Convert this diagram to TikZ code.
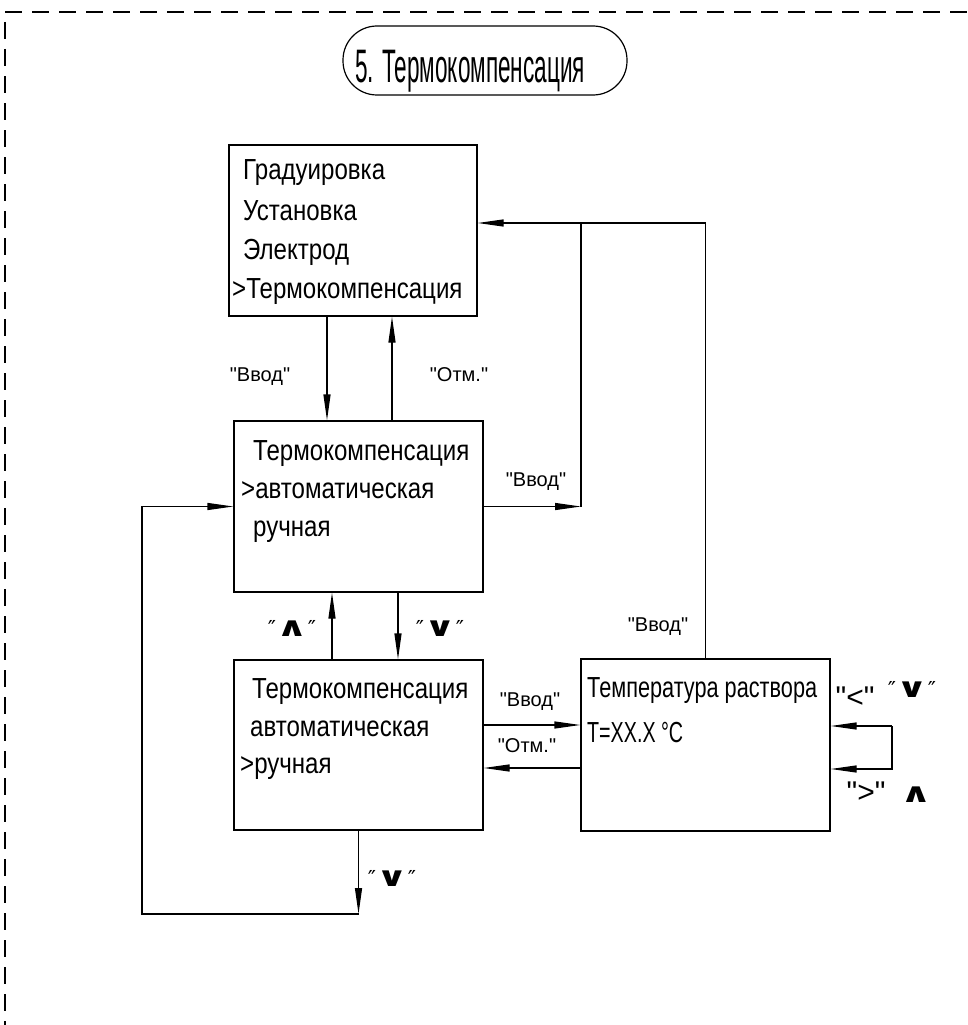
\documentclass[tikz,border=0pt]{standalone}
\usepackage{fontspec}
\usepackage{graphicx}
\setmainfont[FakeStretch=0.83]{Liberation Sans}
\newfontfamily\lblfont{Liberation Sans}
\newfontfamily\symfont{DejaVu Sans}
\newcommand{\qq}{\textquotedbl}
\newcommand{\bsym}[1]{\scalebox{1.3}[0.9]{\fontsize{30}{30}\selectfont\bfseries #1}}
\usetikzlibrary{arrows.meta}
\begin{document}
\begin{tikzpicture}[x=1pt,y=-1pt,
  ln/.style={line width=1.2pt},
  box/.style={draw, line width=1.2pt, inner sep=0pt, minimum width=249pt, minimum height=171pt},
  txt/.style={anchor=base west, inner sep=0pt, font=\fontsize{29}{29}\selectfont},
  lbl/.style={anchor=base, inner sep=0pt, font=\lblfont\fontsize{20}{20}\selectfont},
  sym/.style={anchor=base, inner sep=0pt, font=\symfont\fontsize{22}{22}\selectfont},
  arr/.style={line width=1.2pt, -{Triangle[length=26pt,width=7pt]}},
  border/.style={line width=1.2pt, dash pattern=on 17pt off 10pt}]
\useasboundingbox (0,0) rectangle (967,1025);

% dashed frame
\coordinate (d0) at (5,12);
\coordinate (d1) at (967,12);
\coordinate (d2) at (5,22);
\coordinate (d3) at (5,1025);
\draw[border] (d0) -- (d1);
\draw[border] (d2) -- (d3);

% title
\node[draw, line width=1.2pt, rounded corners=34pt, minimum width=284pt, minimum height=69pt, inner sep=0pt] (title) at (485,60.5) {};
\node[anchor=base, inner sep=0pt] (titletext) at (470,83) {\resizebox{230pt}{\height}{\fontsize{47}{47}\selectfont 5. Термокомпенсация}};

% boxes
\node[box, minimum width=248pt] (b1) at (353,230.5) {};
\node[box] (b2) at (358.5,506.5) {};
\node[box, minimum height=170pt] (b3) at (358.5,745) {};
\node[box, minimum height=172pt] (b4) at (705.5,745) {};

% box 1 text
\node[txt] (t11) at (243,179) {Градуировка};
\node[txt] (t12) at (243,220) {Установка};
\node[txt] (t13) at (243,259) {Электрод};
\node[txt] (t14) at (232,298) {>Термокомпенсация};

% box 2 text
\node[txt] (t21) at (253,460) {Термокомпенсация};
\node[txt] (t22) at (241,498) {>автоматическая};
\node[txt] (t23) at (253,536) {ручная};

% box 3 text
\node[txt] (t31) at (252,698) {Термокомпенсация};
\node[txt] (t32) at (250,736) {автоматическая};
\node[txt] (t33) at (240,773) {>ручная};

% box 4 text
\node[txt] (t41) at (587,697) {\resizebox{230pt}{\height}{Температура раствора}};
\node[txt] (t42) at (587,742) {\resizebox{96pt}{\height}{T=XX.X °C}};

% connectors box1 <-> box2
\draw[arr] ([xshift=-26pt]b1.south) -- ([xshift=-26pt]b1.south |- b2.north);
\draw[arr] ([xshift=39pt]b1.south |- b2.north) -- ([xshift=39pt]b1.south);

% box2 -> up to box1, box4 -> box1
\coordinate (c1) at (581,506.5);
\coordinate (c2) at (581,223);
\coordinate (c3) at (705.5,223);
\draw[arr] (b2.east) -- (c1);
\draw[ln] (c1) -- (c2);
\draw[arr] (b4.north) -- (c3) -- (c3 -| b1.east);

% box2 <-> box3
\draw[arr] ([xshift=39.5pt]b2.south) -- ([xshift=39.5pt]b2.south |- b3.north);
\draw[arr] ([xshift=-26.5pt]b2.south |- b3.north) -- ([xshift=-26.5pt]b2.south);

% box3 <-> box4
\draw[arr] ([yshift=20pt]b3.east) -- ([yshift=20pt]b3.east -| b4.west);
\draw[arr] ([yshift=-23pt]b4.west) -- ([yshift=-23pt]b4.west -| b3.east);

% box4 self loop
\coordinate (c4) at (892,726);
\coordinate (c5) at (892,769);
\draw[arr] (c4) -- (c4 -| b4.east);
\draw[arr] (c4) -- (c5) -- (c5 -| b4.east);

% box3 bottom loop back to box2
\coordinate (c6) at (358.5,914);
\coordinate (c7) at (142,914);
\coordinate (c8) at (142,506.5);
\draw[arr] (b3.south) -- (c6);
\draw[arr] (c6) -- (c7) -- (c8) -- (b2.west);

% labels
\node[lbl] (l1) at (260,381) {\qq Ввод\qq};
\node[lbl] (l2) at (459,381) {\qq Отм.\qq};
\node[lbl] (l3) at (536,486) {\qq Ввод\qq};
\node[lbl] (l6) at (530,706) {\qq Ввод\qq};
\node[lbl] (l7) at (527,752) {\qq Отм.\qq};
\node[lbl] (l8) at (658,631) {\qq Ввод\qq};
\node[sym] (l4) at (292,636) {″\bsym{∧}″};
\node[sym] (l5) at (440,636) {″\bsym{∨}″};
\node[sym] (l10) at (912,697) {″\bsym{∨}″};
\node[sym] (l12) at (916,802) {\bsym{∧}};
\node[sym] (l13) at (392,886) {″\bsym{∨}″};
\node[lbl, font=\lblfont\fontsize{30}{30}\selectfont] (l9) at (855,707) {\qq<\qq};
\node[lbl, font=\lblfont\fontsize{30}{30}\selectfont] (l11) at (866,802) {\qq>\qq};
\end{tikzpicture}
\end{document}
